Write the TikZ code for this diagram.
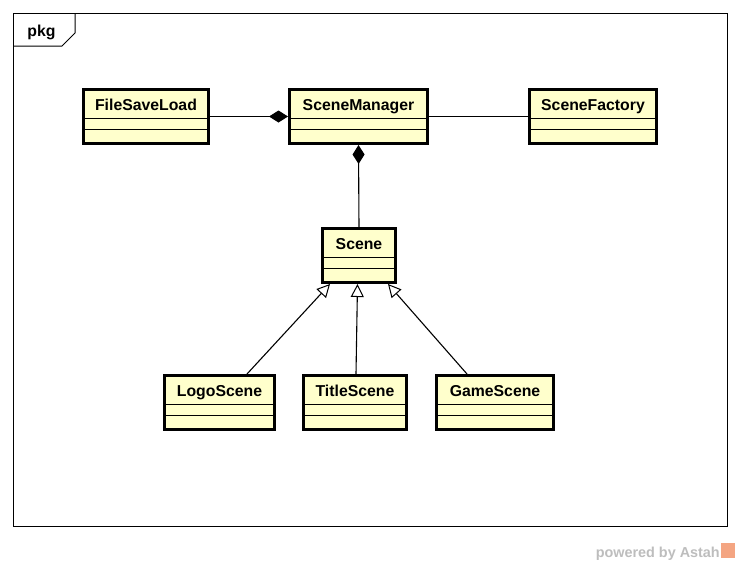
\documentclass[tikz,border=0pt]{standalone}
\usepackage{fontspec}
\setmainfont{Liberation Sans}
\usetikzlibrary{arrows.meta}
\definecolor{classfill}{HTML}{FFFFCC}
\definecolor{astahgray}{HTML}{BDBDBD}
\definecolor{astahorange}{HTML}{F4A582}
\begin{document}
\begin{tikzpicture}[x=1pt, y=-1pt,
  umlclass/.style={draw, line width=2.8pt, fill=classfill, inner xsep=0pt, inner ysep=0pt,
    font=\bfseries\fontsize{15.8}{18}\selectfont, text height=20.6pt, text depth=33.6pt,
    path picture={\draw[line width=0.9pt]
      ([yshift=-29.1pt]path picture bounding box.north west) -- ([yshift=-29.1pt]path picture bounding box.north east)
      ([yshift=-40.1pt]path picture bounding box.north west) -- ([yshift=-40.1pt]path picture bounding box.north east);}},
  link/.style={line width=1.1pt},
  comp/.style={link, {Diamond[length=19pt,width=12pt]}-},
  gen/.style={link, -{Triangle[open,length=13pt,width=13pt,line width=1pt]}}]
\useasboundingbox (0,0) rectangle (740,565);

% package frame
\draw[line width=1pt] (13,13) rectangle (727,526);
\draw[line width=1pt] (13,46) -- (62,46) -- (75,33) -- (75,13);
\node[anchor=base, inner sep=0pt, font=\bfseries\fontsize{15.8}{18}\selectfont] (pkg) at (41.5,36.5) {pkg};

% classes
\node[umlclass, minimum width=125.2pt] (filesaveload) at (146,116.5) {FileSaveLoad};
\node[umlclass, minimum width=138.2pt] (scenemanager) at (358.5,116.5) {SceneManager};
\node[umlclass, minimum width=127.2pt] (scenefactory) at (593,116.5) {SceneFactory};
\node[umlclass, minimum width=73.2pt] (scene) at (359,255.5) {Scene};
\node[umlclass, minimum width=110.2pt] (logoscene) at (219.5,402.5) {LogoScene};
\node[umlclass, minimum width=103.2pt] (titlescene) at (355,402.5) {TitleScene};
\node[umlclass, minimum width=117.2pt] (gamescene) at (495,402.5) {GameScene};

% relations
\draw[comp] (scenemanager) -- (filesaveload);
\draw[link] (scenemanager) -- (scenefactory);
\draw[comp] (scenemanager.south) -- (scene.north);
\draw[gen] ([xshift=27.5pt]logoscene.north) -- ([xshift=-29pt]scene.south);
\draw[gen] ([xshift=1pt]titlescene.north) -- ([xshift=-1.5pt]scene.south);
\draw[gen] ([xshift=-28pt]gamescene.north) -- ([xshift=29pt]scene.south);

% watermark
\node[anchor=base east, inner sep=0pt, text=astahgray, font=\bfseries\fontsize{14.4}{16}\selectfont] (powered) at (720,557) {powered by Astah};
\fill[astahorange] (721,543) rectangle (735,558);
\end{tikzpicture}
\end{document}
